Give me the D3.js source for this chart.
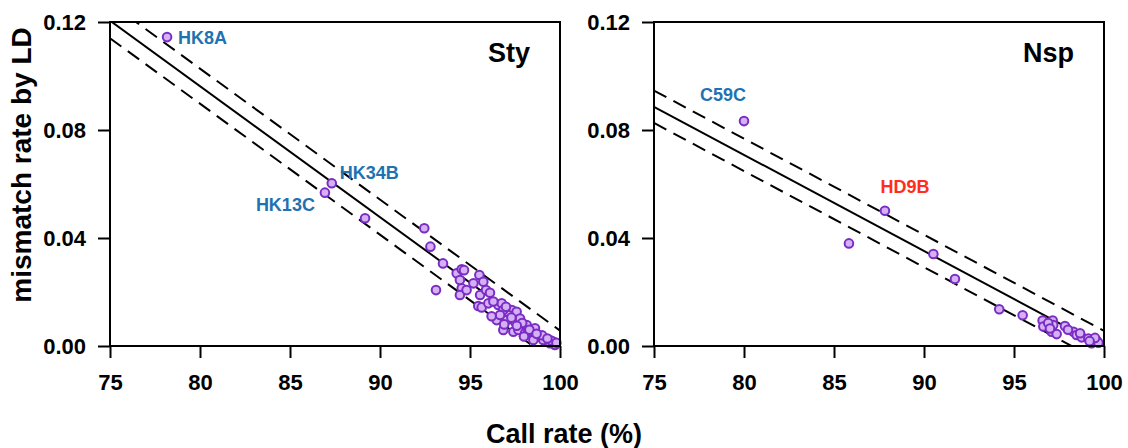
<!DOCTYPE html>
<html>
<head>
<meta charset="utf-8">
<script src="https://cdn.jsdelivr.net/npm/d3@7"></script>
<style>
  body { margin: 0; background: #fff; }
  text { font-family: "Liberation Sans", Arial, sans-serif; font-weight: bold; }
</style>
</head>
<body>
<div id="chart-area"></div>
<script>
// Sty panel
const styX = [78.17, 87.32, 86.94, 89.17, 92.46, 92.8, 93.5, 93.11, 94.26, 94.54, 94.67, 94.44, 94.54,
  94.44, 94.81, 95.19, 95.52, 95.74, 95.56, 95.89, 96.11, 95.46, 95.65, 96.02, 96.57, 96.76, 97.32,
  97.59, 96.48, 96.85, 97.13, 97.5, 97.41, 97.69, 98.15, 98.43, 98.61, 98.89, 99.26, 99.63, 99.72,
  98.06, 98.52, 99.07, 96.85, 97.04, 96.67, 97.78, 98.24, 99.44, 97.9, 98.3, 99.0, 99.5, 96.3, 97.3,
  96.2, 97.6, 98.7, 99.8, 99.3, 97.0, 96.9, 98.0];
const styY = [0.1144, 0.0603, 0.0568, 0.0473, 0.0436, 0.0368, 0.0306, 0.0207, 0.0269, 0.0284, 0.0281,
  0.0244, 0.0214, 0.0189, 0.0207, 0.0232, 0.0263, 0.0238, 0.0189, 0.0207, 0.0197, 0.0148, 0.0143,
  0.0158, 0.0152, 0.0158, 0.0133, 0.0127, 0.0096, 0.0059, 0.0115, 0.009, 0.0053, 0.0059, 0.0078,
  0.0047, 0.0066, 0.0034, 0.0022, 0.0016, 0.0004, 0.0047, 0.0022, 0.0022, 0.0133, 0.0096, 0.0115,
  0.0102, 0.0053, 0.001, 0.0085, 0.006, 0.004, 0.002, 0.0165, 0.0105,
  0.011, 0.0075, 0.0045, 0.0012, 0.0028, 0.0145, 0.008, 0.0035];
const styLabels = [
  { name: 'HK8A', x: 78.17, y: 0.1144, color: '#1f72b0' },
  { name: 'HK34B', x: 87.32, y: 0.0603, color: '#1f72b0' },
  { name: 'HK13C', x: 86.94, y: 0.0568, color: '#1f72b0' }
];
const styFit = [[75, 0.1205], [100, -0.0008]];
const styBand = 0.0065;

// Nsp panel
const nspX = [80.0, 87.83, 85.83, 90.52, 91.72, 94.18, 95.48, 96.59, 96.63, 97.15, 97.09, 97.37, 97.18,
  97.83, 98.3, 98.48, 98.76, 98.67, 99.13, 99.41, 99.59, 99.31, 99.69, 96.9, 97.0, 98.0, 99.5, 99.2];
const nspY = [0.0833, 0.0501, 0.038, 0.0341, 0.0248, 0.0136, 0.0114, 0.0094, 0.0072, 0.0094, 0.0053,
  0.0044, 0.0078, 0.0074, 0.0053, 0.0041, 0.0032, 0.0047, 0.0028, 0.0022, 0.002, 0.001, 0.0012,
  0.0085, 0.0065, 0.006, 0.003, 0.0018];
const nspLabels = [
  { name: 'C59C', x: 80.0, y: 0.0833, color: '#1f72b0' },
  { name: 'HD9B', x: 87.83, y: 0.0501, color: '#ff2d1a' }
];
const nspFit = [[75, 0.0886], [100, -0.0004]];
const nspBand = 0.006;

const xTicks = [75, 80, 85, 90, 95, 100];
const yTicks = [0, 0.04, 0.08, 0.12];

const svg = d3.select('#chart-area').append('svg')
  .attr('width', 1128).attr('height', 448);

const plotH = 324;
const plotW = 450;
const plotTop = 22;

const drawPanel = (left, xs, ys, labels, fit, band, title, labelOffsets, id) => {
  const x = d3.scaleLinear().domain([75, 100]).range([0, plotW]);
  const y = d3.scaleLinear().domain([0, 0.12]).range([plotH, 0]);
  const g = svg.append('g').attr('transform', `translate(${left},${plotTop})`);

  g.append('clipPath').attr('id', id)
    .append('rect').attr('width', plotW).attr('height', plotH);

  const line = d3.line().x(d => x(d[0])).y(d => y(d[1]));
  const lines = g.append('g').attr('clip-path', `url(#${id})`);
  [[0, null], [band, '14,8'], [-band, '14,8']].forEach(([off, dash]) => {
    lines.append('path')
      .attr('d', line(fit.map(p => [p[0], p[1] + off])))
      .attr('fill', 'none').attr('stroke', '#000').attr('stroke-width', 2)
      .attr('stroke-dasharray', dash);
  });

  const pts = d3.range(xs.length).map(i => [xs[i], ys[i]]);
  g.append('g').selectAll('circle').data(pts).enter().append('circle')
    .attr('cx', d => x(d[0])).attr('cy', d => y(d[1])).attr('r', 4.3)
    .attr('fill', '#d3b1f4').attr('stroke', '#7a2cc4').attr('stroke-width', 2);

  // frame
  g.append('rect').attr('width', plotW).attr('height', plotH)
    .attr('fill', 'none').attr('stroke', '#000').attr('stroke-width', 2);

  const xAxis = d3.axisBottom(x).tickValues(xTicks).tickSize(12).tickPadding(16);
  const yAxis = d3.axisLeft(y).tickValues(yTicks).tickSize(12).tickPadding(12)
    .tickFormat(d3.format('.2f'));
  const gx = g.append('g').attr('transform', `translate(0,${plotH})`).call(xAxis);
  const gy = g.append('g').call(yAxis);
  [gx, gy].forEach(a => {
    a.select('.domain').remove();
    a.selectAll('line').attr('stroke', '#000').attr('stroke-width', 2);
    a.selectAll('text').attr('fill', '#000').style('font-size', '22px')
      .style('font-family', '"Liberation Sans", Arial, sans-serif').style('font-weight', 'bold');
  });

  g.selectAll('.label').data(labels).enter().append('text')
    .attr('class', 'label')
    .attr('x', (d, i) => x(d.x) + labelOffsets[i][0])
    .attr('y', (d, i) => y(d.y) + labelOffsets[i][1])
    .attr('text-anchor', (d, i) => labelOffsets[i][2])
    .attr('fill', d => d.color)
    .style('font-size', '18px')
    .text(d => d.name);

  g.append('text').attr('x', plotW - 30).attr('y', 40)
    .attr('text-anchor', 'end').style('font-size', '27px').text(title);
};

drawPanel(110, styX, styY, styLabels, styFit, styBand, 'Sty',
  [[11, 7, 'start'], [8, -4, 'start'], [-10, 18, 'end']], 'clipSty');
drawPanel(654, nspX, nspY, nspLabels, nspFit, nspBand, 'Nsp',
  [[-21, -20, 'middle'], [20, -18, 'middle']], 'clipNsp');

svg.append('text').attr('x', 564).attr('y', 443).attr('text-anchor', 'middle')
  .style('font-size', '27px').text('Call rate (%)');
svg.append('text').attr('transform', 'translate(31,165) rotate(-90)')
  .attr('text-anchor', 'middle').style('font-size', '28px').text('mismatch rate by LD');
</script>
</body>
</html>
